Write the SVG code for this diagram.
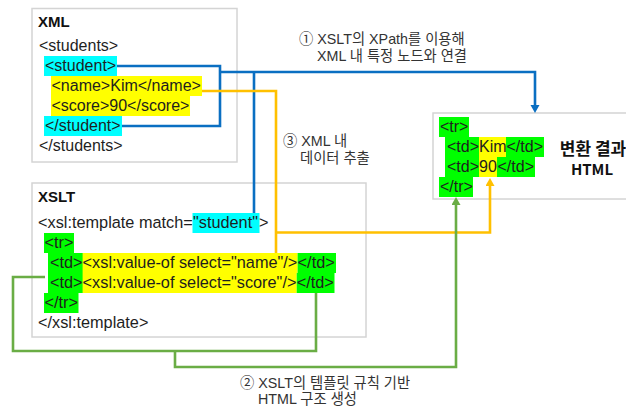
<svg xmlns="http://www.w3.org/2000/svg" width="626" height="410" viewBox="0 0 626 410">
<style>
.box{fill:#fff;stroke:#d4d4d4;stroke-width:1.5}
.code{font-family:"Liberation Sans",Arial,sans-serif;font-size:16px;fill:#1e1e1e}
.x{font-size:16.3px}
.title{font-family:"Liberation Sans",Arial,sans-serif;font-size:15px;font-weight:bold;fill:#111}
.lbl{font-family:"Liberation Sans","Noto Sans CJK KR",sans-serif;font-size:14.3px;fill:#333}
.res{font-family:"Noto Sans CJK KR","Noto Sans",sans-serif;font-size:17px;font-weight:bold;fill:#111;text-anchor:middle}
.cy{fill:#00ffff}
.ye{fill:#ffff00}
.gr{fill:#00ff00}
.ln{fill:none;stroke-width:2.6;stroke-linejoin:miter}
.blue{stroke:#0a6fc2}
.orange{stroke:#ffc000}
.green{stroke:#6aad45}
</style>
<defs>
<marker id="ab" markerUnits="userSpaceOnUse" markerWidth="10" markerHeight="10" refX="2" refY="4.5" orient="auto"><path d="M0,0 L8,4.5 L0,9 z" fill="#0a6fc2"/></marker>
<marker id="ao" markerUnits="userSpaceOnUse" markerWidth="10" markerHeight="10" refX="2" refY="4.5" orient="auto"><path d="M0,0 L8,4.5 L0,9 z" fill="#ffc000"/></marker>
<marker id="ag" markerUnits="userSpaceOnUse" markerWidth="10" markerHeight="10" refX="2" refY="4.5" orient="auto"><path d="M0,0 L8,4.5 L0,9 z" fill="#6aad45"/></marker>
</defs>

<g id="xml">
<rect class="box" x="32" y="8.5" width="205" height="153.5"/>
<text class="title" x="38" y="27">XML</text>
<text class="code" x="39" y="51">&lt;students&gt;</text>
<rect class="cy" x="44" y="56" width="73" height="20"/>
<text class="code" x="45" y="71">&lt;student&gt;</text>
<rect class="ye" x="51" y="76" width="151" height="20"/>
<text class="code" x="51.5" y="91">&lt;name&gt;Kim&lt;/name&gt;</text>
<rect class="ye" x="51" y="96" width="139" height="20"/>
<text class="code" x="51.5" y="111">&lt;score&gt;90&lt;/score&gt;</text>
<rect class="cy" x="44" y="116" width="78" height="20"/>
<text class="code" x="45" y="131">&lt;/student&gt;</text>
<text class="code" x="39" y="151">&lt;/students&gt;</text>
</g>

<g id="xslt">
<rect class="box" x="32" y="183" width="334" height="154"/>
<text class="title" x="38" y="202">XSLT</text>
<text class="code x" x="38" y="228">&lt;xsl:template match=</text>
<rect class="cy" x="192.5" y="213" width="67" height="20"/>
<text class="code x" x="193" y="228">"student"</text>
<text class="code x" x="259" y="228">&gt;</text>
<rect class="gr" x="44" y="233" width="30" height="20"/>
<text class="code x" x="44.5" y="248">&lt;tr&gt;</text>
<rect class="gr" x="48" y="253" width="35" height="40"/>
<text class="code x" x="50" y="268">&lt;td&gt;</text>
<rect class="ye" x="82.6" y="253" width="215" height="20"/>
<text class="code x" x="82.6" y="268">&lt;xsl:value-of select="name"/&gt;</text>
<rect class="gr" x="297.6" y="253" width="38.4" height="20"/>
<text class="code x" x="297.6" y="268">&lt;/td&gt;</text>
<text class="code x" x="50" y="288">&lt;td&gt;</text>
<rect class="ye" x="82.6" y="273" width="214.1" height="20"/>
<text class="code x" x="82.6" y="288">&lt;xsl:value-of select="score"/&gt;</text>
<rect class="gr" x="296.7" y="273" width="37.8" height="20"/>
<text class="code x" x="296.7" y="288">&lt;/td&gt;</text>
<rect class="gr" x="44" y="293" width="34.5" height="20"/>
<text class="code x" x="44.5" y="308">&lt;/tr&gt;</text>
<text class="code x" x="38" y="328">&lt;/xsl:template&gt;</text>
</g>

<g id="html">
<rect class="box" x="433" y="113" width="210" height="86"/>
<rect class="gr" x="439" y="117" width="30" height="20"/>
<text class="code" x="440" y="132">&lt;tr&gt;</text>
<rect class="gr" x="445" y="137" width="34" height="40"/>
<text class="code" x="447" y="152">&lt;td&gt;</text>
<rect class="ye" x="479" y="137" width="27" height="20"/>
<text class="code" x="479" y="152">Kim</text>
<rect class="gr" x="506" y="137" width="38" height="20"/>
<text class="code" x="506.5" y="152">&lt;/td&gt;</text>
<text class="code" x="447" y="172">&lt;td&gt;</text>
<rect class="ye" x="479" y="157" width="18" height="20"/>
<text class="code" x="479" y="172">90</text>
<rect class="gr" x="497" y="157" width="38" height="20"/>
<text class="code" x="497.5" y="172">&lt;/td&gt;</text>
<rect class="gr" x="439" y="177" width="34" height="20"/>
<text class="code" x="440" y="192">&lt;/tr&gt;</text>
<text class="res" x="593" y="155">변환 결과</text>
<text class="res" x="592" y="175" style="font-size:15px">HTML</text>
</g>

<g id="connectors">
<path class="ln blue" d="M117,66 H220 V126 H122"/>
<path class="ln blue" d="M220,72 H535 V107" marker-end="url(#ab)"/>
<path class="ln blue" d="M254,72 V213"/>
<path class="ln orange" d="M202,91 H276 V253"/>
<path class="ln orange" d="M276,232.5 H490 V184" marker-end="url(#ao)"/>
<path class="ln green" d="M45,277 H13 V351 H316 V293"/>
<path class="ln green" d="M175,351 V367 H456 V203" marker-end="url(#ag)"/>
</g>

<g id="labels">
<text class="lbl"><tspan x="299" y="44">① XSLT의 XPath를 이용해</tspan><tspan x="317" y="61">XML 내 특정 노드와 연결</tspan></text>
<text class="lbl"><tspan x="283" y="146">③ XML 내</tspan><tspan x="300" y="163">데이터 추출</tspan></text>
<text class="lbl"><tspan x="240" y="388">② XSLT의 템플릿 규칙 기반</tspan><tspan x="258" y="404">HTML 구조 생성</tspan></text>
</g>
</svg>
